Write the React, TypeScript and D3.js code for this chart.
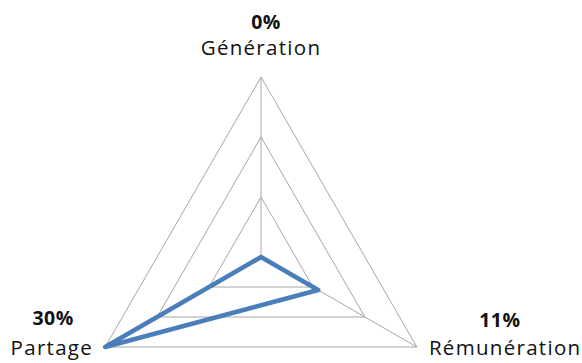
import React from 'react';
import * as d3 from 'd3';

const categories = ['Génération', 'Rémunération', 'Partage'];
const values = [0, 11, 30];
const levels = [10, 20, 30];

const W = 582;
const H = 363;
const cx = 261;
const cy = 257;
const R = 180;

// label placement around each outer vertex: [label dx, label dy, anchor, value dx, value dy]
const labelPos: [number, number, string, number, number][] = [
  [0, -22, 'middle', 5, -48],
  [12, 8, 'start', 83, -20],
  [-12, 8, 'end', -52, -22],
];

export default function App() {
  const r = d3.scaleLinear().domain([0, 30]).range([0, R]);
  const angle = d3.scaleLinear().domain([0, categories.length]).range([0, 2 * Math.PI]);

  const pt = (i: number, v: number): [number, number] => {
    const a = angle(i);
    return [cx + r(v) * Math.sin(a), cy - r(v) * Math.cos(a)];
  };

  const closed = d3.line().curve(d3.curveLinearClosed);
  const font = '"Open Sans", sans-serif';

  return (
    <svg width={W} height={H} style={{ position: 'absolute', left: 0, top: 0 }}>
      <rect width={W} height={H} fill="#fff" />
      {levels.map((l) => (
        <path
          key={l}
          d={closed(categories.map((_, i) => pt(i, l))) || ''}
          fill="none"
          stroke="#a6a6a6"
          strokeWidth={1}
        />
      ))}
      {categories.map((c, i) => {
        const [x, y] = pt(i, 30);
        return <line key={c} x1={cx} y1={cy} x2={x} y2={y} stroke="#a6a6a6" strokeWidth={1} />;
      })}
      <path
        d={closed(values.map((v, i) => pt(i, v))) || ''}
        fill="none"
        stroke="#4a7ebb"
        strokeWidth={4.5}
        strokeLinejoin="round"
      />
      {categories.map((c, i) => {
        const [x, y] = pt(i, 30);
        const [ldx, ldy, anchor, vdx, vdy] = labelPos[i];
        return (
          <g key={c} fontFamily={font} fill="#111">
            <text x={x + vdx} y={y + vdy} textAnchor="middle" fontSize={19.5} fontWeight="bold" letterSpacing={0.5}>
              {values[i]}%
            </text>
            <text x={x + ldx} y={y + ldy} textAnchor={anchor} fontSize={20.5} letterSpacing={1.3}>
              {c}
            </text>
          </g>
        );
      })}
    </svg>
  );
}
